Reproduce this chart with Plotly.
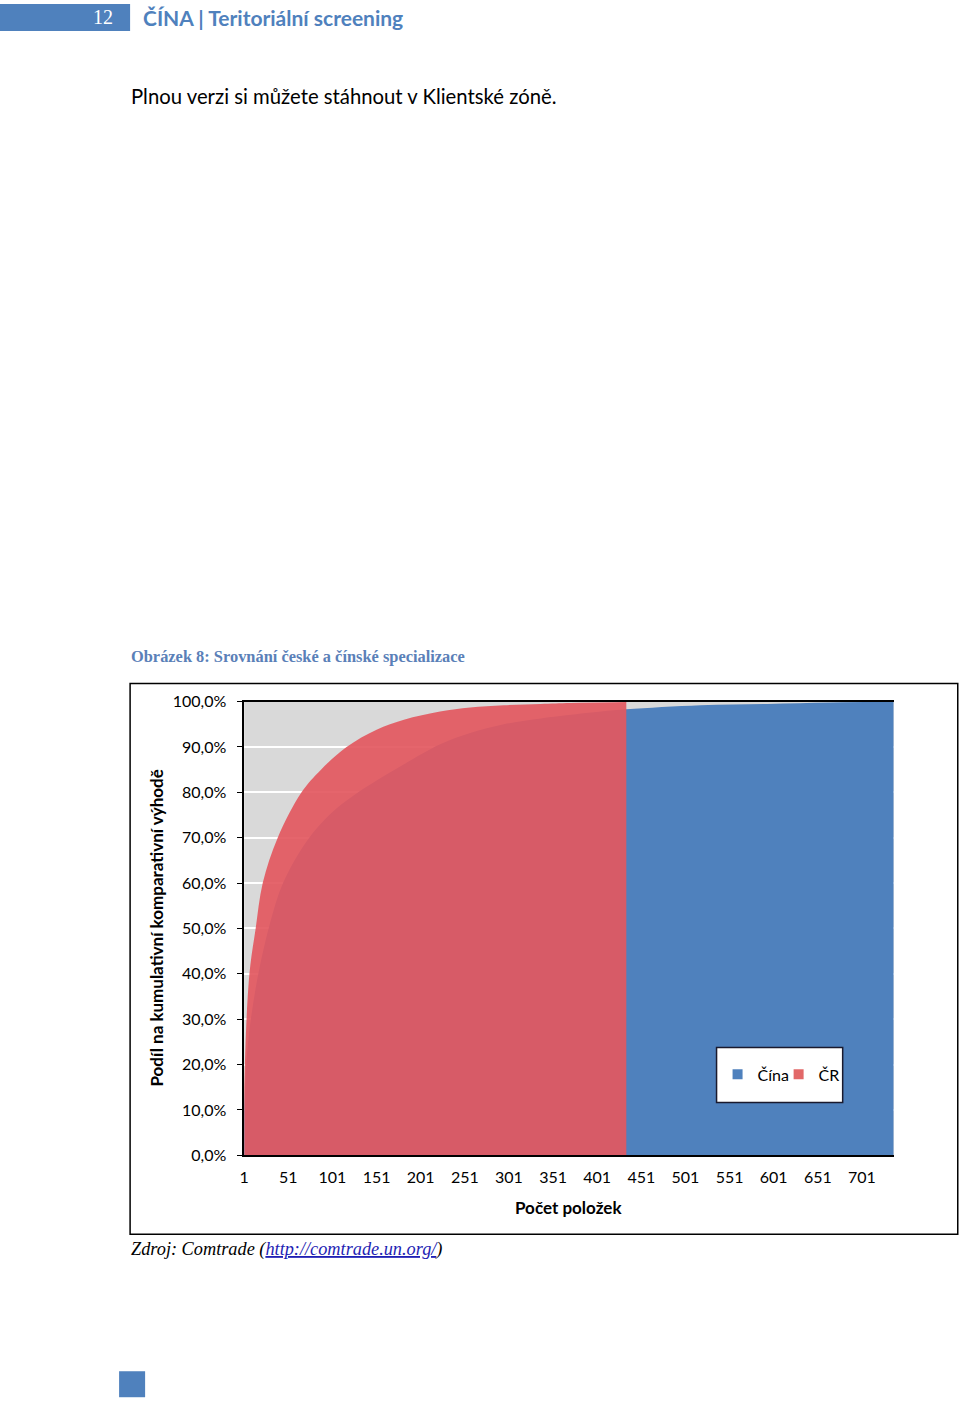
import plotly.graph_objects as go

W, H = 960, 1402

# ---- data ----
china_items = [1, 3, 6, 10, 18, 30, 45, 72, 100, 125, 151, 182, 223, 257, 295, 337, 371, 394, 434, 518, 594, 665, 737]
china_share = [0.10, 0.19, 0.26, 0.32, 0.41, 0.51, 0.60, 0.693, 0.755, 0.793, 0.826, 0.862, 0.906, 0.931, 0.950, 0.963, 0.971, 0.976, 0.983, 0.992, 0.995, 0.998, 1.0]

cr_items = [1, 3, 5, 8, 14, 22, 39, 66, 88, 117, 151, 182, 223, 257, 295, 337, 371, 434]
cr_share = [0.15, 0.27, 0.35, 0.42, 0.50, 0.60, 0.70, 0.80, 0.85, 0.90, 0.938, 0.960, 0.978, 0.987, 0.992, 0.995, 0.997, 0.999]

x_tick_vals = [1, 51, 101, 151, 201, 251, 301, 351, 401, 451, 501, 551, 601, 651, 701]
y_tick_vals = [0, 0.1, 0.2, 0.3, 0.4, 0.5, 0.6, 0.7, 0.8, 0.9, 1.0]
y_tick_text = ["0,0%", "10,0%", "20,0%", "30,0%", "40,0%", "50,0%", "60,0%", "70,0%", "80,0%", "90,0%", "100,0%"]

BLUE = "#4F81BD"
RED_FILL = "rgba(227,88,96,0.92)"
RED_LEG = "#E26868"

# page-pixel -> paper mapping (calibrated to the photographed page)
OX, SX, OY, SY = 5.0, 0.994, 9.0, 0.987


def px(x):
    return ((x - OX) / SX) / W


def py(y):
    return 1 - ((y - OY) / SY) / H


fig = go.Figure()

fig.add_trace(go.Scatter(
    x=china_items, y=china_share, mode="lines", fill="tozeroy",
    fillcolor=BLUE, line=dict(width=0, color=BLUE, shape="spline", smoothing=1.0),
    showlegend=False, hoverinfo="skip"))
fig.add_trace(go.Scatter(
    x=cr_items, y=cr_share, mode="lines", fill="tozeroy",
    fillcolor=RED_FILL, line=dict(width=0, color=RED_LEG, shape="spline", smoothing=1.0),
    showlegend=False, hoverinfo="skip"))

fig.add_trace(go.Scatter(x=[None], y=[None], mode="markers", name="Čína", legend="legend",
                         marker=dict(symbol="square", size=10, color=BLUE)))
fig.add_trace(go.Scatter(x=[None], y=[None], mode="markers", name="ČR", legend="legend2",
                         marker=dict(symbol="square", size=10, color=RED_LEG)))

font_main = "Lato, 'Open Sans', sans-serif"

leg_common = dict(orientation="h", xanchor="left", yanchor="middle",
                  bgcolor="rgba(0,0,0,0)", borderwidth=0, font=dict(size=16, family=font_main),
                  itemwidth=30)

fig.update_layout(
    width=W, height=H, autosize=False,
    margin=dict(l=0, r=0, t=0, b=0),
    paper_bgcolor="white", plot_bgcolor="#D9D9D9",
    font=dict(family=font_main, size=16, color="black"),
    xaxis=dict(domain=[px(244), px(893)], range=[1, 737], tickmode="array",
               tickvals=x_tick_vals, ticks="", showgrid=False, zeroline=False,
               showline=True, linecolor="black", linewidth=1.5, mirror=True,
               tickfont=dict(size=16), ticklabelstandoff=7),
    yaxis=dict(domain=[py(1155), py(701)], range=[0, 1.0], tickmode="array",
               tickvals=y_tick_vals, ticktext=y_tick_text, ticks="outside",
               ticklen=5, tickcolor="black", showgrid=True, gridcolor="white",
               gridwidth=1.5, zeroline=False, showline=True, linecolor="black",
               linewidth=1.5, tickfont=dict(size=16), ticklabelstandoff=8),
    legend=dict(x=px(717), y=py(1074), **leg_common),
    legend2=dict(x=px(778), y=py(1074), **leg_common),
)

shapes = [
    dict(type="rect", xref="paper", yref="paper", x0=px(0), x1=px(130), y0=py(30), y1=py(3),
         fillcolor=BLUE, line=dict(width=0), layer="below"),
    dict(type="rect", xref="paper", yref="paper", x0=px(130), x1=px(957), y0=py(1234), y1=py(683),
         fillcolor="rgba(0,0,0,0)", line=dict(width=1.5, color="black"), layer="above"),
    dict(type="rect", xref="paper", yref="paper", x0=px(716), x1=px(842), y0=py(1102), y1=py(1047),
         fillcolor="white", line=dict(width=1.5, color="#1a1a2e"), layer="above"),
    dict(type="rect", xref="paper", yref="paper", x0=px(119), x1=px(145), y0=py(1397), y1=py(1371),
         fillcolor=BLUE, line=dict(width=0), layer="below"),
]
fig.update_layout(shapes=shapes)

annotations = [
    dict(text="12", x=px(115), y=py(16), xanchor="right", yanchor="middle",
         font=dict(family="'Liberation Serif', serif", size=20, color="white")),
    dict(text="<b>ČÍNA | Teritoriální screening</b>", x=px(141), y=py(17), xanchor="left", yanchor="middle",
         font=dict(family=font_main, size=21, color=BLUE)),
    dict(text="Plnou verzi si můžete stáhnout v Klientské zóně.", x=px(129), y=py(95),
         xanchor="left", yanchor="middle", font=dict(family=font_main, size=20.3, color="black")),
    dict(text="<b>Obrázek 8: Srovnání české a čínské specializace</b>", x=px(129), y=py(656),
         xanchor="left", yanchor="middle",
         font=dict(family="'Liberation Serif', serif", size=16.4, color="#5A80B8")),
    dict(text="<b>Podíl na kumulativní komparativní výhodě</b>", x=px(156), y=py(928),
         xanchor="center", yanchor="middle", textangle=-90,
         font=dict(family=font_main, size=17, color="black")),
    dict(text="<b>Počet položek</b>", x=px(568), y=py(1207), xanchor="center", yanchor="middle",
         font=dict(family=font_main, size=17, color="black")),
    dict(text="<i>Zdroj: Comtrade (<span style='color:#1F1FB4'><u>http://comtrade.un.org/</u></span>)</i>",
         x=px(129), y=py(1249), xanchor="left", yanchor="middle",
         font=dict(family="'Liberation Serif', serif", size=18.3, color="black")),
]
for a in annotations:
    a.update(xref="paper", yref="paper", showarrow=False)
fig.update_layout(annotations=annotations)

post = (
    "document.documentElement.style.margin='0';"
    "document.documentElement.style.overflow='hidden';"
    "document.body.style.margin='0';document.body.style.padding='0';"
    "document.body.style.overflow='hidden';"
    "var d=document.getElementById('{plot_id}');"
    "d.style.position='absolute';d.style.left='0px';d.style.top='0px';"
)
fig.write_html("out.html", config={"displayModeBar": False}, post_script=post)
